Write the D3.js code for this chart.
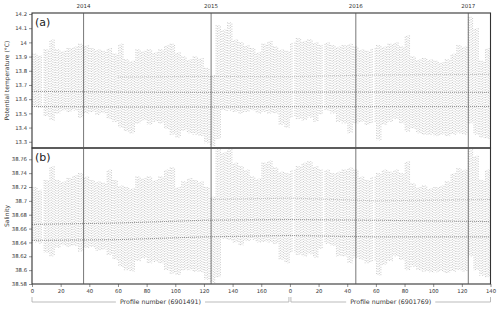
<!DOCTYPE html>
<html><head><meta charset="utf-8">
<script src="https://cdn.jsdelivr.net/npm/d3@7"></script>
<style>body{margin:0;background:#fff}svg{display:block;font-family:"DejaVu Sans",sans-serif}</style>
</head><body><svg id="c" width="500" height="309"></svg>
<script>
// ---- data ----
const groupSize = 4; // profiles per envelope group (combined profile index)
const tempMax = [13.92,13.91,13.95,14.02,13.95,13.94,13.96,13.97,13.99,13.98,13.96,13.95,13.94,13.96,13.92,13.99,13.88,13.87,13.95,13.94,
  13.95,13.93,13.95,13.98,13.99,13.93,13.90,13.88,13.90,13.89,13.82,13.77,14.12,14.09,14.14,14.02,14.00,13.98,13.96,13.93,
  13.99,14.01,13.97,13.95,13.94,14.00,14.03,14.01,14.02,14.00,13.98,14.00,13.98,13.97,13.98,13.99,13.97,13.95,13.94,13.96,
  13.98,13.97,13.99,14.00,13.97,14.05,13.90,13.88,13.89,13.88,13.87,13.86,13.88,13.92,13.98,13.97,14.18,14.10,13.87,13.96];
const tempMin = [13.55,13.54,13.48,13.45,13.50,13.52,13.51,13.52,13.47,13.50,13.51,13.49,13.50,13.46,13.44,13.40,13.37,13.36,13.43,13.45,
  13.42,13.44,13.43,13.39,13.35,13.33,13.38,13.36,13.35,13.34,13.29,13.27,13.32,13.52,13.52,13.51,13.50,13.51,13.52,13.50,
  13.51,13.50,13.50,13.42,13.40,13.47,13.46,13.45,13.47,13.44,13.49,13.52,13.50,13.44,13.43,13.36,13.43,13.44,13.42,13.43,
  13.31,13.42,13.44,13.46,13.43,13.37,13.39,13.36,13.35,13.35,13.34,13.35,13.34,13.35,13.36,13.35,13.43,13.35,13.33,13.32];
const salMax = [38.720,38.716,38.730,38.750,38.730,38.728,38.733,38.737,38.740,38.735,38.730,38.728,38.726,38.745,38.730,38.722,38.720,38.718,38.735,38.733,
  38.735,38.730,38.735,38.745,38.748,38.720,38.728,38.733,38.730,38.728,38.720,38.706,38.776,38.770,38.776,38.755,38.750,38.745,38.735,38.732,
  38.755,38.758,38.748,38.742,38.740,38.745,38.750,38.755,38.757,38.750,38.745,38.745,38.740,38.742,38.745,38.748,38.745,38.735,38.730,38.735,
  38.740,38.745,38.742,38.745,38.740,38.757,38.725,38.720,38.722,38.718,38.720,38.722,38.728,38.740,38.747,38.745,38.776,38.765,38.730,38.745];
const salMin = [38.640,38.638,38.625,38.620,38.632,38.636,38.634,38.635,38.627,38.632,38.633,38.628,38.630,38.622,38.615,38.605,38.600,38.598,38.613,38.617,
  38.610,38.612,38.610,38.600,38.595,38.593,38.600,38.600,38.598,38.597,38.586,38.582,38.590,38.645,38.643,38.640,38.636,38.642,38.644,38.640,
  38.641,38.640,38.638,38.615,38.610,38.625,38.622,38.620,38.623,38.618,38.630,38.638,38.635,38.620,38.620,38.610,38.618,38.615,38.610,38.612,
  38.592,38.608,38.613,38.620,38.615,38.600,38.605,38.600,38.598,38.597,38.597,38.598,38.596,38.598,38.600,38.598,38.620,38.600,38.592,38.590];
const missingProfiles = [7, 182, 203, 238];
const float1Count = 180, float2Count = 140;
// dense (deep-water) levels: combined profile index and value
const tempLineIdx = [0, 60, 120, 180, 240, 320];
const tempLineA = [13.655, 13.650, 13.648, 13.650, 13.650, 13.648];
const tempLineB = [13.548, 13.545, 13.545, 13.547, 13.547, 13.548];
const tempLineCIdx = [60, 120, 180, 240, 320];
const tempLineC = [13.756, 13.760, 13.758, 13.770, 13.775];
const salLineIdx = [0, 60, 120, 180, 240, 320];
const salLineA = [38.666, 38.668, 38.672, 38.673, 38.672, 38.670];
const salLineB = [38.643, 38.644, 38.648, 38.650, 38.648, 38.648];
const salLineCIdx = [125, 180, 240, 320];
const salLineC = [38.702, 38.704, 38.700, 38.702];
const years = ["2014", "2015", "2016", "2017"];
const yearProfile = [36, 125, 226, 304.5];
const tempTicks = [14.2, 14.1, 14, 13.9, 13.8, 13.7, 13.6, 13.5, 13.4, 13.3];
const salTicks = [38.76, 38.74, 38.72, 38.7, 38.68, 38.66, 38.64, 38.62, 38.6, 38.58];
const float1Ticks = [0, 20, 40, 60, 80, 100, 120, 140, 160];
const float2Ticks = [0, 20, 40, 60, 80, 100, 120, 140];
const float1Label = "Profile number (6901491)";
const float2Label = "Profile number (6901769)";

// ---- layout ----
const svg = d3.select("#c");
const L = 32, R = 490.5;
const x = d3.scaleLinear().domain([0, float1Count + float2Count]).range([L, R]);
const panels = [
  {key:"a", top:13, bottom:148, domain:[13.256, 14.207], max:tempMax, min:tempMin, ticks:tempTicks,
   lines:[[tempLineIdx,tempLineA,"#666"],[tempLineIdx,tempLineB,"#666"],[tempLineCIdx,tempLineC,"#aaa"]],
   label:"Potential temperature (°C)", fmt:d=>String(+d.toFixed(1))},
  {key:"b", top:148, bottom:284, domain:[38.58, 38.7763], max:salMax, min:salMin, ticks:salTicks,
   lines:[[salLineIdx,salLineA,"#666"],[salLineIdx,salLineB,"#666"],[salLineCIdx,salLineC,"#aaa"]],
   label:"Salinity", fmt:d=>String(+d.toFixed(2))}
];
const profiles = d3.range(0, float1Count + float2Count).filter(i => !missingProfiles.includes(i));
const offsets = [0, 1.3, 0.5, 1.9, 0.9, 2.2, 0.2, 1.6];

panels.forEach((p, pi) => {
  const y = d3.scaleLinear().domain(p.domain).range([p.bottom, p.top]);
  const cid = "clip" + p.key;
  svg.append("clipPath").attr("id", cid).append("rect")
    .attr("x", L).attr("y", p.top).attr("width", R - L).attr("height", p.bottom - p.top);
  const g = svg.append("g").attr("clip-path", `url(#${cid})`);
  g.selectAll("line.prof").data(profiles).join("line").attr("class","prof")
    .attr("x1", i => x(i + 0.5)).attr("x2", i => x(i + 0.5))
    .attr("y1", i => y(p.max[Math.floor(i / groupSize)]))
    .attr("y2", i => y(p.min[Math.floor(i / groupSize)]))
    .attr("stroke", "#8f8f8f").attr("stroke-width", 0.6)
    .attr("stroke-dasharray", "0.8 1.7")
    .attr("stroke-dashoffset", i => offsets[(i * 3) % offsets.length]);
  p.lines.forEach(([idx, vals, col]) => {
    const pts = idx.map((v, k) => [v, vals[k]]);
    g.append("path").attr("d", d3.line().x(d => x(d[0])).y(d => y(d[1]))(pts))
      .attr("fill","none").attr("stroke", col).attr("stroke-width", 0.7)
      .attr("stroke-dasharray","1 1");
  });
  // y axis
  const ax = svg.append("g").attr("transform", `translate(${L},0)`)
    .call(d3.axisLeft(y).tickValues(p.ticks).tickFormat(p.fmt).tickSize(3).tickPadding(2));
  ax.select(".domain").remove();
  ax.selectAll("line").attr("stroke","#444").attr("stroke-width",0.6);
  ax.selectAll("text").attr("font-size", 5.3).attr("fill","#333").attr("font-family","DejaVu Sans");
  // frame
  svg.append("rect").attr("x", L).attr("y", p.top).attr("width", R - L).attr("height", p.bottom - p.top)
    .attr("fill","none").attr("stroke","#333").attr("stroke-width",1.1);
  svg.append("text").attr("x", 35).attr("y", p.top + 13).attr("font-size", 11).attr("fill","#222")
    .text("(" + p.key + ")");
  svg.append("text").attr("transform", `translate(9,${(p.top + p.bottom) / 2}) rotate(-90)`)
    .attr("text-anchor","middle").attr("font-size", 6).attr("fill","#333").text(p.label);
});

// year lines
yearProfile.forEach((v, k) => {
  svg.append("line").attr("x1", x(v)).attr("x2", x(v)).attr("y1", 13).attr("y2", 284)
    .attr("stroke","#555").attr("stroke-width",0.8);
  svg.append("text").attr("x", x(v)).attr("y", 8).attr("text-anchor","middle")
    .attr("font-size", 5.5).attr("fill","#333").text(years[k]);
});

// x axes (two floats)
const x1 = d3.scaleLinear().domain([0, float1Count]).range([x(0), x(float1Count)]);
const x2 = d3.scaleLinear().domain([0, float2Count]).range([x(float1Count), x(float1Count + float2Count)]);
[[x1, float1Ticks],[x2, float2Ticks]].forEach(([sc, t]) => {
  const ax = svg.append("g").attr("transform","translate(0,284)")
    .call(d3.axisBottom(sc).tickValues(t).tickSize(3).tickPadding(2));
  ax.select(".domain").remove();
  ax.selectAll("line").attr("stroke","#444").attr("stroke-width",0.6);
  ax.selectAll("text").attr("font-size",5.3).attr("fill","#333").attr("font-family","DejaVu Sans");
});

// brackets
function bracket(a, b, label) {
  const yb = 302, mid = (a + b) / 2;
  const t = svg.append("text").attr("x", mid).attr("y", yb + 2).attr("text-anchor","middle")
    .attr("font-size", 6.3).attr("fill","#333").text(label);
  const w = t.node().getComputedTextLength() / 2 + 4;
  svg.append("path").attr("d", `M${a},${yb - 5}V${yb}H${mid - w}M${mid + w},${yb}H${b}V${yb - 5}`)
    .attr("fill","none").attr("stroke","#aaa").attr("stroke-width",0.8);
}
bracket(x(0), x(float1Count) - 1, float1Label);
bracket(x(float1Count) + 1, x(float1Count + float2Count), float2Label);
</script></body></html>
